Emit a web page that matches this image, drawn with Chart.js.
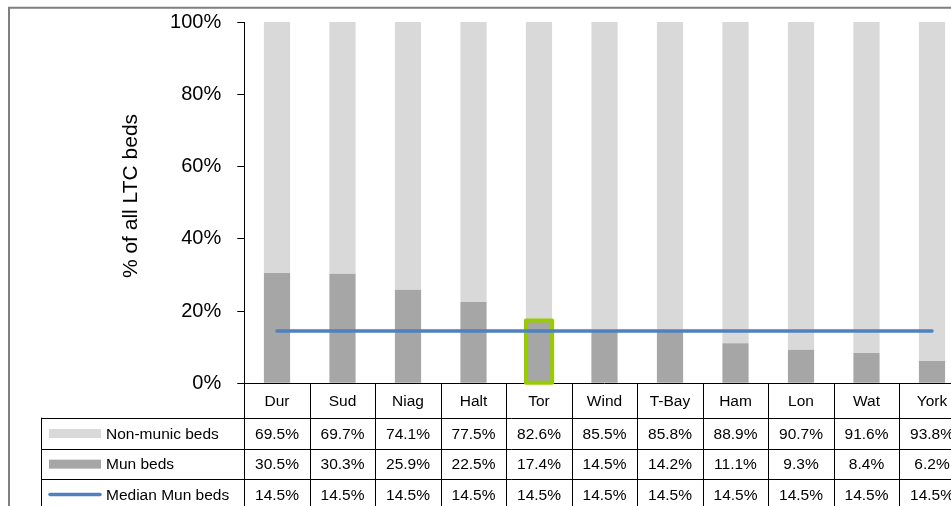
<!DOCTYPE html>
<html>
<head>
<meta charset="utf-8">
<script src="https://cdn.jsdelivr.net/npm/chart.js@4/dist/chart.umd.min.js"></script>
<style>
  html, body { margin: 0; padding: 0; background: #fff; overflow: hidden; }
  #wrap { position: absolute; left: 0; top: 0; width: 980px; height: 506px; }
</style>
</head>
<body>
<div id="wrap"><canvas id="c" width="980" height="506"></canvas></div>
<script>
// Share of long-term-care beds by region
const categories = ['Dur', 'Sud', 'Niag', 'Halt', 'Tor', 'Wind', 'T-Bay', 'Ham', 'Lon', 'Wat', 'York'];
const nonMunicBeds = [69.5, 69.7, 74.1, 77.5, 82.6, 85.5, 85.8, 88.9, 90.7, 91.6, 93.8];
const munBeds = [30.5, 30.3, 25.9, 22.5, 17.4, 14.5, 14.2, 11.1, 9.3, 8.4, 6.2];
const medianMunBeds = [14.5, 14.5, 14.5, 14.5, 14.5, 14.5, 14.5, 14.5, 14.5, 14.5, 14.5];
const yTicks = [0, 20, 40, 60, 80, 100];
const seriesNames = ['Non-munic beds', 'Mun beds', 'Median Mun beds'];
const highlighted = 'Tor';
const yTitle = '% of all LTC beds';

const FONT = "'Liberation Sans', Arial, sans-serif";
const C_NON = '#D9D9D9';
const C_MUN = '#A6A6A6';
const C_MED = '#4F81BD';
const C_HL = '#99CC00';

const fmt = v => v.toFixed(1) + '%';

// Green outline around the highlighted region's municipal bar
const highlightPlugin = {
  id: 'highlight',
  afterDatasetDraw(chart, args) {
    if (args.index !== 1) return;
    const i = categories.indexOf(highlighted);
    const bar = args.meta.data[i];
    if (!bar) return;
    const { x, y, base, width } = bar.getProps(['x', 'y', 'base', 'width'], true);
    const ctx = chart.ctx;
    ctx.save();
    ctx.strokeStyle = C_HL;
    ctx.lineWidth = 4;
    ctx.lineJoin = 'round';
    ctx.strokeRect(x - width / 2, y, width, base - y);
    ctx.restore();
  }
};

// Frame, axis title and the data table under the plot
const tablePlugin = {
  id: 'dataTable',
  beforeDraw(chart) {
    const ctx = chart.ctx;
    ctx.save();
    ctx.strokeStyle = '#7F7F7F';
    ctx.lineWidth = 2;
    ctx.beginPath();
    ctx.moveTo(9, chart.height + 5);
    ctx.lineTo(9, 7.7);
    ctx.lineTo(chart.width + 5, 7.7);
    ctx.stroke();
    ctx.restore();
  },
  afterDraw(chart) {
    const ctx = chart.ctx;
    const xs = chart.scales.x;
    const area = chart.chartArea;
    const n = categories.length;
    const step = (area.right - area.left) / n;
    const rows = [area.bottom, 417.7, 449.3, 479, 510];
    const legendLeft = 41.5;
    const bottomEdge = chart.height + 5;

    ctx.save();
    // y axis title
    ctx.fillStyle = '#000';
    ctx.font = '21px ' + FONT;
    ctx.textAlign = 'center';
    ctx.textBaseline = 'middle';
    ctx.translate(131, 196);
    ctx.rotate(-Math.PI / 2);
    ctx.fillText(yTitle, 0, 0);
    ctx.restore();

    ctx.save();
    ctx.strokeStyle = '#000';
    ctx.lineWidth = 1;
    ctx.beginPath();
    // column separators
    for (let i = 0; i <= n; i++) {
      const bx = Math.round(area.left + i * step) + 0.5;
      ctx.moveTo(bx, area.bottom);
      ctx.lineTo(bx, bottomEdge);
    }
    // legend column left edge
    ctx.moveTo(legendLeft, rows[1]);
    ctx.lineTo(legendLeft, bottomEdge);
    // row separators
    for (let r = 1; r < rows.length; r++) {
      const ry = Math.round(rows[r]) + 0.5;
      ctx.moveTo(legendLeft, ry);
      ctx.lineTo(chart.width + 5, ry);
    }
    ctx.stroke();

    ctx.fillStyle = '#000';
    ctx.font = '15.5px ' + FONT;
    ctx.textAlign = 'center';
    ctx.textBaseline = 'middle';
    const rowMid = r => (rows[r] + rows[r + 1]) / 2 + 1;
    const rowValues = [nonMunicBeds, munBeds, medianMunBeds];
    categories.forEach((cat, i) => {
      const cx = xs.getPixelForValue(i);
      ctx.fillText(cat, cx, rowMid(0));
      rowValues.forEach((vals, r) => ctx.fillText(fmt(vals[i]), cx, rowMid(r + 1)));
    });

    // legend keys
    ctx.textAlign = 'left';
    ctx.fillStyle = C_NON;
    ctx.fillRect(49, rowMid(1) - 5.5, 52, 9);
    ctx.fillStyle = C_MUN;
    ctx.fillRect(49, rowMid(2) - 5.5, 52, 9);
    ctx.strokeStyle = C_MED;
    ctx.lineWidth = 3.5;
    ctx.lineCap = 'round';
    ctx.beginPath();
    ctx.moveTo(50, rowMid(3) - 1);
    ctx.lineTo(100, rowMid(3) - 1);
    ctx.stroke();
    ctx.fillStyle = '#000';
    seriesNames.forEach((name, r) => ctx.fillText(name, 106, rowMid(r + 1)));
    ctx.restore();
  }
};

new Chart(document.getElementById('c'), {
  data: {
    labels: categories,
    datasets: [
      {
        type: 'line',
        label: seriesNames[2],
        data: medianMunBeds,
        stack: 'median',
        borderColor: C_MED,
        borderWidth: 3.5,
        borderCapStyle: 'round',
        pointRadius: 0,
        fill: false,
        order: 0
      },
      {
        type: 'bar',
        label: seriesNames[1],
        data: munBeds,
        stack: 'beds',
        backgroundColor: C_MUN,
        borderWidth: 0,
        barPercentage: 0.4,
        categoryPercentage: 1.0,
        order: 1
      },
      {
        type: 'bar',
        label: seriesNames[0],
        data: nonMunicBeds,
        stack: 'beds',
        backgroundColor: C_NON,
        borderWidth: 0,
        barPercentage: 0.4,
        categoryPercentage: 1.0,
        order: 2
      }
    ]
  },
  options: {
    responsive: false,
    animation: false,
    devicePixelRatio: 1,
    layout: { padding: { top: 22, right: 15.25, bottom: 122.7, left: 0 } },
    plugins: { legend: { display: false }, tooltip: { enabled: false } },
    scales: {
      x: {
        stacked: true,
        offset: true,
        grid: { display: false },
        ticks: { display: false },
        border: { display: true, color: '#000', width: 1 },
        afterFit(scale) { scale.height = 0; }
      },
      y: {
        stacked: true,
        min: 0,
        max: 100,
        afterBuildTicks(scale) { scale.ticks = yTicks.map(v => ({ value: v })); },
        ticks: {
          callback: v => v + '%',
          color: '#000',
          padding: 16,
          font: { family: FONT, size: 20 }
        },
        grid: { display: true, drawOnChartArea: false, drawTicks: true, tickLength: 7, color: '#000' },
        border: { display: true, color: '#000', width: 1 },
        afterFit(scale) {
          scale.width = 244.25;
          scale.paddingTop = 0;
          scale.paddingBottom = 0;
        }
      }
    }
  },
  plugins: [highlightPlugin, tablePlugin]
});
</script>
</body>
</html>
